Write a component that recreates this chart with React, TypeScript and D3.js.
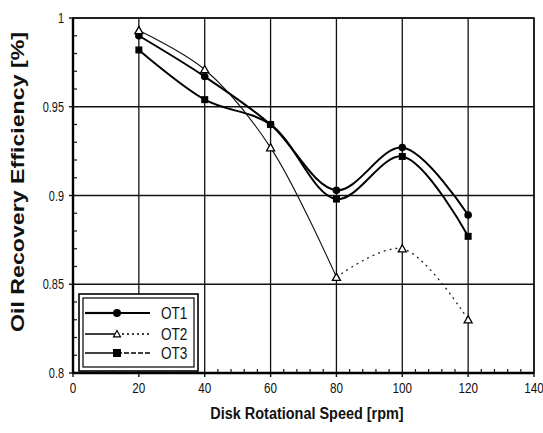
import * as d3 from "d3";
import React from "react";

const speeds = [20, 40, 60, 80, 100, 120];
const ot1 = [0.99, 0.967, 0.94, 0.903, 0.927, 0.889];
const ot2 = [0.993, 0.971, 0.927, 0.854, 0.87, 0.83];
const ot3 = [0.982, 0.954, 0.94, 0.898, 0.922, 0.877];
const seriesNames = ["OT1", "OT2", "OT3"];
const xTicks = [0, 20, 40, 60, 80, 100, 120, 140];
const yTicks = [0.8, 0.85, 0.9, 0.95, 1];

const W = 543;
const H = 433;
const left = 73;
const right = 534;
const top = 18;
const bottom = 373;
const font = "'Liberation Sans', Arial, sans-serif";

// condensed text, like the narrow face of the scan
const Narrow = ({ x, y, anchor = "start", size = 14, sx = 0.78, bold = false, children }: any) => (
  <text
    transform={`translate(${x},${y}) scale(${sx},1)`}
    textAnchor={anchor}
    fontFamily={font}
    fontSize={size}
    fontWeight={bold ? "bold" : "normal"}
    fill="#111"
  >
    {children}
  </text>
);

const App = () => {
  const x = d3.scaleLinear().domain([0, 140]).range([left, right]);
  const y = d3.scaleLinear().domain([0.8, 1]).range([bottom, top]);

  const line = d3
    .line<[number, number]>()
    .x((d) => x(d[0]))
    .y((d) => y(d[1]))
    .curve(d3.curveCatmullRom.alpha(0.5));

  const pts = (vals: number[]) => speeds.map((s, i) => [s, vals[i]] as [number, number]);
  const p1 = pts(ot1);
  const p2 = pts(ot2);
  const p3 = pts(ot3);

  const xMinor = d3.range(0, 141, 4).filter((v) => v % 20 !== 0);
  const yMinor = d3.range(0.8, 1.0001, 0.01).filter((v) => Math.abs(Math.round(v * 100) % 5) !== 0);

  const tri = (cx: number, cy: number, r: number) =>
    `M${cx},${cy - r}L${cx + r},${cy + r * 0.8}L${cx - r},${cy + r * 0.8}Z`;

  const legendX = 79;
  const legendY = 294;
  const rows = [313, 334, 353];

  return (
    <svg width={W} height={H} style={{ position: "absolute", left: 0, top: 0, background: "#fff" }}>
      {/* grid */}
      {xTicks.map((t) => (
        <line key={"gx" + t} x1={x(t)} x2={x(t)} y1={top} y2={bottom} stroke="#111" strokeWidth={1.3} />
      ))}
      {yTicks.map((t) => (
        <line key={"gy" + t} x1={left} x2={right} y1={y(t)} y2={y(t)} stroke="#111" strokeWidth={1.3} />
      ))}
      <rect x={left} y={top} width={right - left} height={bottom - top} fill="none" stroke="#111" strokeWidth={1.5} />
      <line x1={left} x2={left} y1={top} y2={bottom} stroke="#000" strokeWidth={2.4} />
      <line x1={left} x2={right} y1={bottom} y2={bottom} stroke="#000" strokeWidth={2.4} />

      {/* minor ticks */}
      {xMinor.map((t) => (
        <line key={"mx" + t} x1={x(t)} x2={x(t)} y1={bottom} y2={bottom - 4} stroke="#111" strokeWidth={1.2} />
      ))}
      {yMinor.map((t) => (
        <line key={"my" + t} x1={left} x2={left + 4} y1={y(t)} y2={y(t)} stroke="#111" strokeWidth={1.2} />
      ))}
      {xTicks.map((t) => (
        <line key={"tx" + t} x1={x(t)} x2={x(t)} y1={bottom} y2={bottom + 4} stroke="#111" strokeWidth={1.4} />
      ))}
      {yTicks.map((t) => (
        <line key={"ty" + t} x1={left - 4} x2={left} y1={y(t)} y2={y(t)} stroke="#111" strokeWidth={1.4} />
      ))}

      {/* tick labels */}
      {xTicks.map((t) => (
        <Narrow key={"lx" + t} x={x(t)} y={bottom + 20} anchor="middle" size={15}>
          {t}
        </Narrow>
      ))}
      {yTicks.map((t) => (
        <Narrow key={"ly" + t} x={left - 9} y={y(t) + 5} anchor="end" size={14}>
          {d3.format("~g")(t)}
        </Narrow>
      ))}

      {/* axis titles */}
      <Narrow x={307} y={419} anchor="middle" size={17} sx={0.85} bold>
        Disk Rotational Speed [rpm]
      </Narrow>
      <text
        transform={`translate(24,${182}) rotate(-90)`}
        textAnchor="middle"
        fontFamily={font}
        fontSize={19}
        fontWeight="bold"
        fill="#111"
        textLength={300}
        lengthAdjust="spacingAndGlyphs"
      >
        Oil Recovery Efficiency [%]
      </text>

      {/* OT3 */}
      <path d={line(p3) || ""} fill="none" stroke="#000" strokeWidth={2} />
      {/* OT1 */}
      <path d={line(p1) || ""} fill="none" stroke="#000" strokeWidth={2} />
      {/* OT2 */}
      <path d={line(p2.slice(0, 4)) || ""} fill="none" stroke="#111" strokeWidth={1.1} />
      <path d={line(p2.slice(3)) || ""} fill="none" stroke="#222" strokeWidth={1.3} strokeDasharray="2,4" />

      {p3.map((d, i) => (
        <rect key={"m3" + i} x={x(d[0]) - 3.5} y={y(d[1]) - 3.5} width={7} height={7} fill="#000" />
      ))}
      {p1.map((d, i) => (
        <circle key={"m1" + i} cx={x(d[0])} cy={y(d[1])} r={3.8} fill="#000" />
      ))}
      {p2.map((d, i) => (
        <path key={"m2" + i} d={tri(x(d[0]), y(d[1]), 4)} fill="#fff" stroke="#000" strokeWidth={1.3} />
      ))}

      {/* legend */}
      <rect x={legendX} y={legendY} width={119} height={77} fill="#fff" stroke="#000" strokeWidth={1.6} />
      <rect x={legendX + 4} y={legendY + 4} width={111} height={69} fill="none" stroke="#000" strokeWidth={1.2} />
      {seriesNames.map((name, i) => {
        const ry = rows[i];
        return (
          <g key={name}>
            <line x1={85} x2={117} y1={ry} y2={ry} stroke="#000" strokeWidth={i === 0 ? 2.2 : 1.5} />
            <line
              x1={117}
              x2={150}
              y1={ry}
              y2={ry}
              stroke="#000"
              strokeWidth={i === 0 ? 2.2 : 1.5}
              strokeDasharray={i === 0 ? undefined : i === 1 ? "2,3" : "5,2"}
            />
            {i === 0 && <circle cx={117} cy={ry} r={4} fill="#000" />}
            {i === 1 && <path d={tri(117, ry, 3.5)} fill="#fff" stroke="#000" strokeWidth={1.2} />}
            {i === 2 && <rect x={113} y={ry - 4} width={8} height={8} fill="#000" />}
            <Narrow x={161} y={ry + 6} size={17} sx={0.8}>
              {name}
            </Narrow>
          </g>
        );
      })}
    </svg>
  );
};

export default App;
